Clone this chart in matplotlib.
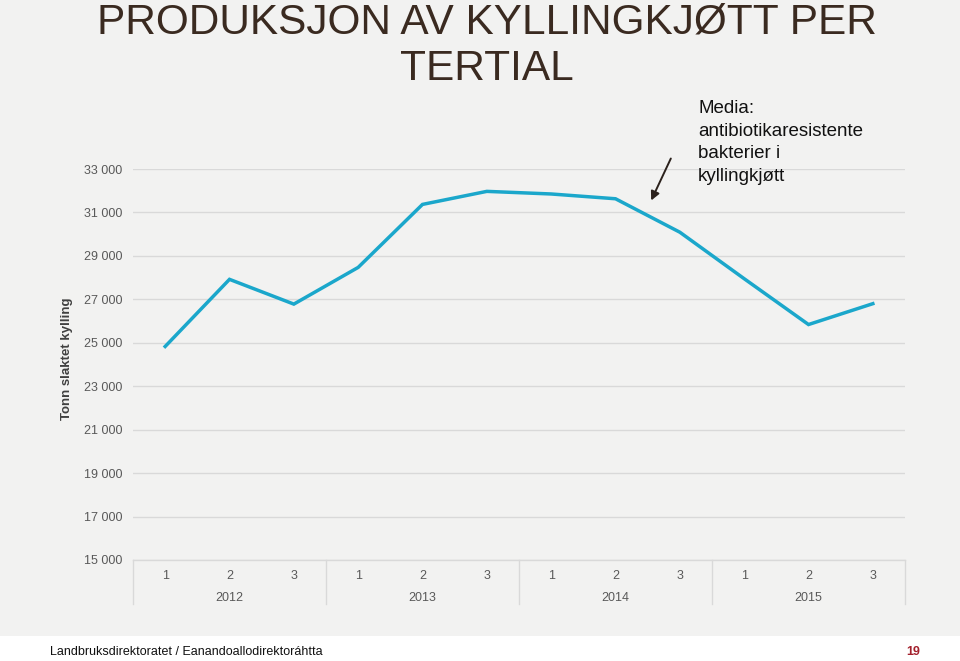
import matplotlib
matplotlib.use("Agg")
import matplotlib.pyplot as plt
from matplotlib.transforms import blended_transform_factory
from matplotlib.patches import Rectangle

plt.rcParams["font.family"] = ["Liberation Sans", "DejaVu Sans"]

# ---- data ----
years = ["2012", "2013", "2014", "2015"]
tertials = ["1", "2", "3"]
values = [24830, 27920, 26780, 28470, 31370, 31970, 31850, 31630,
          30090, 27950, 25840, 26800]
yticks = [15000, 17000, 19000, 21000, 23000, 25000, 27000, 29000, 31000, 33000]
ytick_labels = ["15 000", "17 000", "19 000", "21 000", "23 000", "25 000",
                "27 000", "29 000", "31 000", "33 000"]
title_lines = ["PRODUKSJON AV KYLLINGKJØTT PER", "TERTIAL"]
ylabel = "Tonn slaktet kylling"
annotation_lines = ["Media:", "antibiotikaresistente", "bakterier i", "kyllingkjøtt"]
footer = "Landbruksdirektoratet / Eanandoallodirektoráhtta"
page = "19"

W, H = 960, 661
fig = plt.figure(figsize=(W / 100, H / 100), dpi=100)
fig.patch.set_facecolor("#f2f2f1")
# white footer band
fig.patches.append(Rectangle((0, 0), 1, 25 / H, transform=fig.transFigure,
                             facecolor="white", edgecolor="none", zorder=0))

left, right = 133 / W, 905 / W
bottom, top = 1 - 560 / H, 1 - 169 / H
ax = fig.add_axes([left, bottom, right - left, top - bottom])
ax.set_facecolor("#f2f2f1")

n = len(values)
x = list(range(n))
ax.plot(x, values, color="#1ba7cb", lw=2.5, solid_joinstyle="miter", zorder=3)
ax.set_xlim(-0.5, n - 0.5)
ax.set_ylim(15000, 33000)
ax.set_yticks(yticks)
ax.set_yticklabels(ytick_labels)
ax.grid(axis="y", color="#d9d9d9", lw=1)
ax.set_axisbelow(True)
for s in ax.spines.values():
    s.set_visible(False)
ax.tick_params(axis="y", length=0, pad=7.5, labelsize=9, labelcolor="#595959")
ax.set_xticks([])

ax.set_ylabel(ylabel, fontsize=9.5, fontweight="bold", color="#404040")
ax.yaxis.set_label_coords(-0.0777, 0.514)

# category axis
tr = blended_transform_factory(ax.transData, ax.transAxes)
ax.plot([-0.5, n - 0.5], [0, 0], transform=tr, color="#d9d9d9", lw=1, clip_on=False)
for b in [-0.5, 2.5, 5.5, 8.5, 11.5]:
    ax.plot([b, b], [0, -0.1125], transform=tr, color="#d9d9d9", lw=1, clip_on=False)
for i in range(n):
    ax.text(x[i], -0.04, tertials[i % 3], transform=tr, ha="center", va="center",
            fontsize=9, color="#595959")
for j, yr in enumerate(years):
    ax.text(3 * j + 1, -0.096, yr, transform=tr, ha="center", va="center",
            fontsize=9, color="#595959")

# annotation
ax.annotate("", xy=(650, H - 203), xytext=(672, H - 156), xycoords="figure pixels",
            textcoords="figure pixels",
            arrowprops=dict(arrowstyle="-|>", color="#2b211c", lw=1.4, mutation_scale=13))
for k, line in enumerate(annotation_lines):
    fig.text(698 / W, 1 - (113 + 22.6 * k) / H, line, ha="left", va="baseline",
             fontsize=13.5, color="#111111")

# title
for k, line in enumerate(title_lines):
    fig.text(487 / W, 1 - (34 + 46 * k) / H, line, ha="center", va="baseline",
             fontsize=30.5, color="#3a2a20")

# footer
fig.text(50 / W, 9 / H, footer, ha="left", va="center", fontsize=9,
         color="#111111")
fig.text(913 / W, 9 / H, page, ha="center", va="center", fontsize=9,
         color="#a3202c", fontweight="bold")

fig.savefig("out.png", dpi=100, facecolor=fig.get_facecolor())
